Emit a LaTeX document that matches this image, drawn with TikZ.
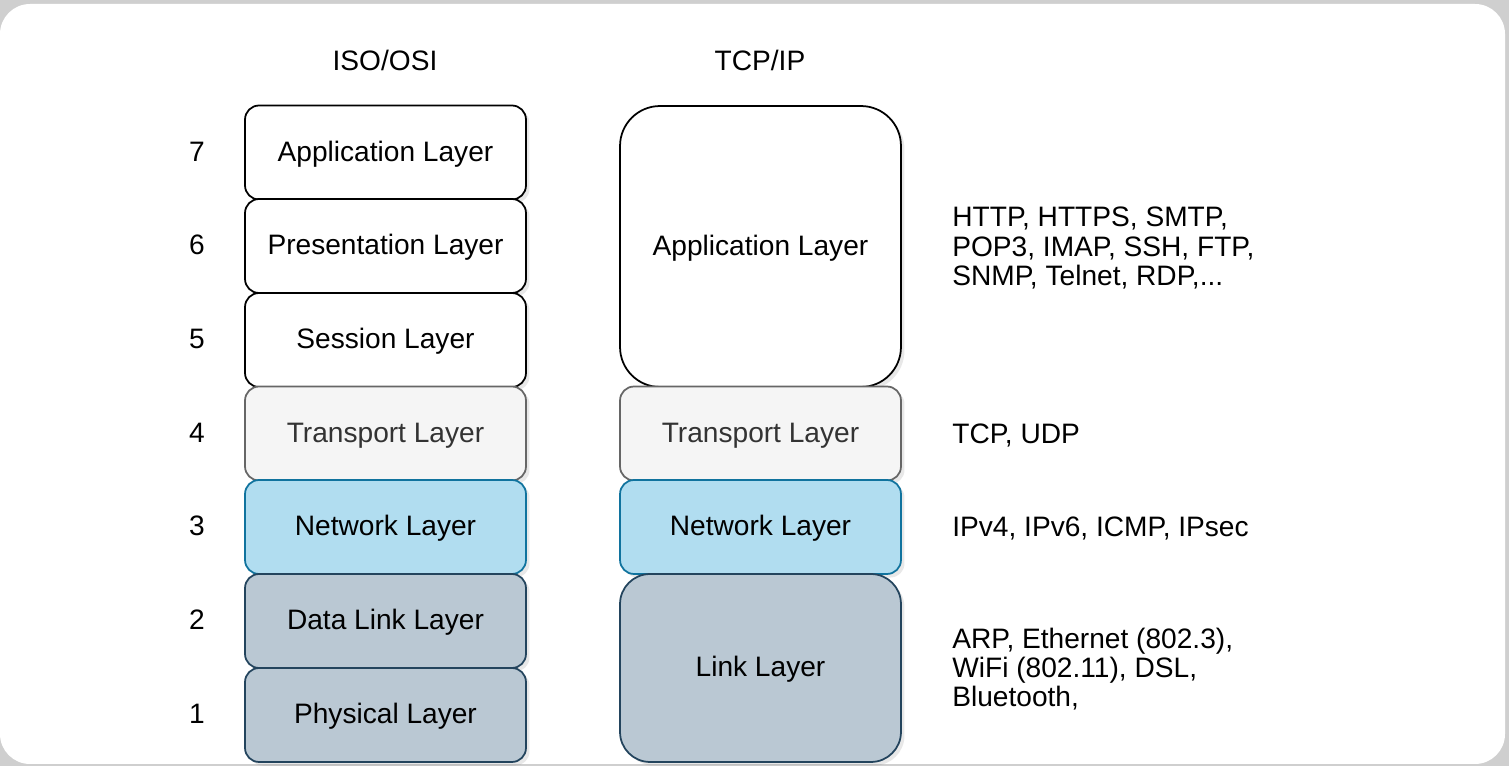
\documentclass[tikz,border=0pt]{standalone}
\usepackage{fontspec}
\setmainfont{Liberation Sans}
\usetikzlibrary{positioning,shadows}
\definecolor{framegray}{HTML}{CFCFCF}
\definecolor{tpfill}{HTML}{F5F5F5}
\definecolor{tpdraw}{HTML}{666666}
\definecolor{tptext}{HTML}{333333}
\definecolor{netfill}{HTML}{B1DDF0}
\definecolor{netdraw}{HTML}{10739E}
\definecolor{linkfill}{HTML}{BAC8D3}
\definecolor{linkdraw}{HTML}{23445D}

\begin{document}
\begin{tikzpicture}[x=0.02cm, y=-0.02cm,
  every node/.style={font=\fontsize{16}{16.6}\selectfont},
  layer/.style={draw, line width=1pt, rounded corners=0.28cm, inner sep=0pt,
    minimum width=5.62cm, minimum height=1.88cm, fill=white,
    text height=1.1em, text depth=0.1em,
    drop shadow={shadow xshift=2pt, shadow yshift=-2pt, opacity=0.18}},
  tpbox/.style={layer, fill=tpfill, draw=tpdraw, text=tptext},
  netbox/.style={layer, fill=netfill, draw=netdraw},
  linkbox/.style={layer, fill=linkfill, draw=linkdraw},
  num/.style={anchor=center, text height=1.1em, text depth=0.1em},
  proto/.style={anchor=west, align=left, inner sep=0pt}]
  \useasboundingbox (0,0) rectangle (1509,766);
  \fill[framegray] (0,0) rectangle (1509,766);
  \fill[white, rounded corners=0.6cm] (0,4) rectangle (1505,764);

  % headers
  \node[num] (hosi) at (385,62) {ISO/OSI};
  \node[num] (htcp) at (760,62) {TCP/IP};

  % ISO/OSI stack
  \node[layer]    (o7) at (385.5,152.5) {Application Layer};
  \node[layer]    (o6) at (385.5,246)   {Presentation Layer};
  \node[layer]    (o5) at (385.5,340)   {Session Layer};
  \node[tpbox]    (o4) at (385.5,433.5) {Transport Layer};
  \node[netbox]   (o3) at (385.5,527)   {Network Layer};
  \node[linkbox]  (o2) at (385.5,621)   {Data Link Layer};
  \node[linkbox]  (o1) at (385.5,715)   {Physical Layer};

  % layer numbers
  \foreach \n/\y in {7/152.5,6/246,5/340,4/433.5,3/527,2/621,1/715}
    \node[num] (n\n) at (197,\y) {\n};

  % TCP/IP stack
  \node[layer, minimum height=5.62cm, rounded corners=0.8cm] (tapp) at (760.5,246.5) {Application Layer};
  \node[tpbox]   (ttrans) at (760.5,433.5) {Transport Layer};
  \node[netbox]  (tnet)   at (760.5,527)   {Network Layer};
  \node[linkbox, minimum height=3.76cm, rounded corners=0.6cm] (tlink) at (760.5,668) {Link Layer};

  % protocols
  \node[proto] (papp)   at (952,248)   {HTTP, HTTPS, SMTP,\\POP3, IMAP, SSH, FTP,\\SNMP, Telnet, RDP,...};
  \node[proto] (ptrans) at (952,435) {TCP, UDP};
  \node[proto] (pnet)   at (952,528)   {IPv4, IPv6, ICMP, IPsec};
  \node[proto] (plink)  at (952,669)   {ARP, Ethernet (802.3),\\WiFi (802.11), DSL,\\Bluetooth,};
\end{tikzpicture}
\end{document}
